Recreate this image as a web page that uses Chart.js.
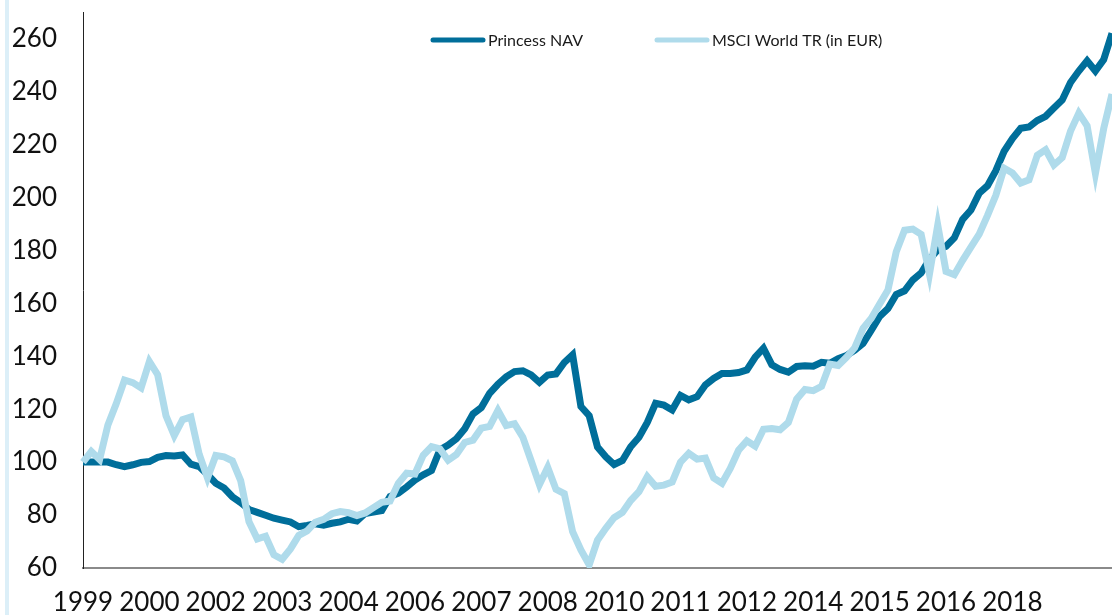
<!DOCTYPE html>
<html>
<head>
<meta charset="utf-8">
<script src="https://cdn.jsdelivr.net/npm/chart.js@4.4.1/dist/chart.umd.min.js"></script>
<style>
  html, body { margin: 0; padding: 0; background: #fff; }
  #wrap { position: relative; width: 1112px; height: 615px; }
  #bar { position: absolute; left: 5px; top: 0; width: 4px; height: 615px; background: #dceff8; }
  canvas { position: absolute; left: 0; top: 0; }
</style>
</head>
<body>
<div id="wrap">
  <div id="bar"></div>
  <canvas id="myChart" width="1112" height="615"></canvas>
</div>
<script>
// Zweimonatliche Werte ab Juli 1999
const startYear = 1999;
const startMonth = 6; // Juli
const yearLabels = ["1999", "2000", "2002", "2003", "2004", "2006", "2007", "2008",
  "2010", "2011", "2012", "2014", "2015", "2016", "2018"];
const labelStep = 8;
const yTicks = [60, 80, 100, 120, 140, 160, 180, 200, 220, 240, 260];

const princessNav = [
  100, 100, 100, 100, 99, 98.3, 99, 99.9, 100.2, 101.8,
  102.5, 102.3, 102.7, 99.2, 98.3, 95.3, 92, 90.2, 86.9, 84.7,
  82.1, 81, 79.9, 78.8, 78.1, 77.4, 75.6, 76.1, 76.7, 76.2,
  76.9, 77.4, 78.4, 77.8, 80.6, 81.1, 81.7, 87, 88.3, 90.6,
  93.2, 95.2, 96.8, 104.6, 106.4, 108.8, 112.6, 118.2, 120.6, 126,
  129.4, 132.2, 134.2, 134.5, 132.9, 130.1, 132.9, 133.3, 137.6, 140.5,
  121, 117.5, 105.7, 102, 99.1, 100.6, 105.8, 109.4, 115, 122.2,
  121.5, 119.7, 125.2, 123.5, 124.7, 129.1, 131.6, 133.5, 133.5, 133.8,
  134.8, 139.6, 143, 136.8, 135, 134, 136.1, 136.4, 136.2, 137.7,
  137.3, 139.1, 140.2, 142.3, 144.8, 149.8, 155, 158, 163.3, 164.7,
  168.8, 171.4, 176.6, 180.1, 181.5, 184.7, 191.7, 195.2, 201.6, 204.4,
  210.1, 217.4, 222.2, 226.1, 226.6, 229, 230.6, 233.7, 236.8, 243.4,
  247.7, 251.6, 247.7, 252, 262
];

const msciWorld = [
  100, 104, 101, 114, 122, 131, 130, 128, 138, 133,
  117.5, 110, 116, 117, 103, 94, 102.5, 102, 100.5, 93,
  77.5, 71, 72, 65, 63.3, 67.2, 72.3, 74, 77.3, 78.4,
  80.5, 81.3, 80.9, 79.8, 80.8, 82.8, 84.8, 85.3, 92, 95.8,
  95.5, 102.6, 105.8, 105, 100.7, 102.9, 107.4, 108.3, 112.8, 113.5,
  119.5, 113.8, 114.5, 109.4, 100.5, 91.5, 98, 89.7, 88.1, 73.7,
  66.8, 61.2, 70.5, 75, 79, 81, 85.5, 88.8, 94.5, 90.9,
  91.3, 92.5, 100, 103.3, 101.1, 101.5, 94, 92, 97.6, 104.5,
  108, 106, 112.4, 112.7, 112.2, 115, 123.8, 127.4, 127, 128.6,
  137, 136.5, 139.6, 143.2, 150.5, 154.3, 159.7, 165, 179.4, 187.6,
  188, 186, 171, 189.5, 172, 170.8, 176.2, 181.2, 186.1, 193.2,
  200.8, 211, 209.2, 205.4, 206.6, 215.9, 218, 212.2, 215, 225,
  231.8, 227, 209, 226, 239
];

const colorNav = "#006e9a";
const colorMsci = "#afdbeb";

// Kategorien: Monat als "JJJJ-MM"
const categories = princessNav.map(function (v, i) {
  const m = startMonth + i * 2;
  const y = startYear + Math.floor(m / 12);
  return y + "-" + String((m % 12) + 1).padStart(2, "0");
});

// eigene Legende innerhalb der Zeichenfläche
const innerLegend = {
  id: "innerLegend",
  afterDraw(chart) {
    const ctx = chart.ctx;
    const area = chart.chartArea;
    const y = area.top + 28;
    const items = [
      { x: area.left + 350, text: "Princess NAV", color: colorNav },
      { x: area.left + 574, text: "MSCI World TR (in EUR)", color: colorMsci },
    ];
    ctx.save();
    ctx.font = "16px Lato";
    ctx.textBaseline = "middle";
    ctx.fillStyle = "#1a1a1a";
    items.forEach(function (it) {
      ctx.strokeStyle = it.color;
      ctx.lineWidth = 5;
      ctx.lineCap = "round";
      ctx.beginPath();
      ctx.moveTo(it.x, y);
      ctx.lineTo(it.x + 50, y);
      ctx.stroke();
      ctx.fillText(it.text, it.x + 55, y + 1);
    });
    ctx.restore();
  },
};

const ctx = document.getElementById("myChart").getContext("2d");
const myChart = new Chart(ctx, {
  type: "line",
  data: {
    labels: categories,
    datasets: [
      {
        label: "Princess NAV",
        data: princessNav,
        borderColor: colorNav,
        borderWidth: 7,
        pointRadius: 0,
        tension: 0,
        order: 1,
      },
      {
        label: "MSCI World TR (in EUR)",
        data: msciWorld,
        borderColor: colorMsci,
        borderWidth: 7,
        pointRadius: 0,
        tension: 0,
        order: 0,
      },
    ],
  },
  options: {
    responsive: false,
    animation: false,
    layout: { padding: { left: 0, right: 0, top: 12, bottom: 0 } },
    plugins: {
      legend: { display: false },
      tooltip: { enabled: false },
    },
    scales: {
      x: {
        grid: { display: false, drawTicks: false },
        border: { display: true, color: "#8a8a8a", width: 2 },
        ticks: {
          autoSkip: false,
          maxRotation: 0,
          padding: 19,
          color: "#111",
          font: { family: "Lato", size: 26 },
          callback: function (value, index) {
            return index % labelStep === 0 ? yearLabels[index / labelStep] : null;
          },
        },
        afterFit: function (scale) {
          scale.height = 47;
          scale.paddingLeft = 0;
          scale.paddingRight = 0;
        },
      },
      y: {
        min: 60,
        max: 270,
        grid: { display: false, drawTicks: false },
        border: { display: true, color: "#222", width: 1 },
        afterBuildTicks: function (scale) {
          scale.ticks = yTicks.map(function (v) { return { value: v }; });
        },
        ticks: {
          padding: 26,
          color: "#111",
          font: { family: "Lato", size: 26 },
        },
        afterFit: function (scale) {
          scale.width = 83;
          scale.paddingTop = 0;
          scale.paddingBottom = 0;
        },
      },
    },
  },
  plugins: [innerLegend],
});
</script>
</body>
</html>
